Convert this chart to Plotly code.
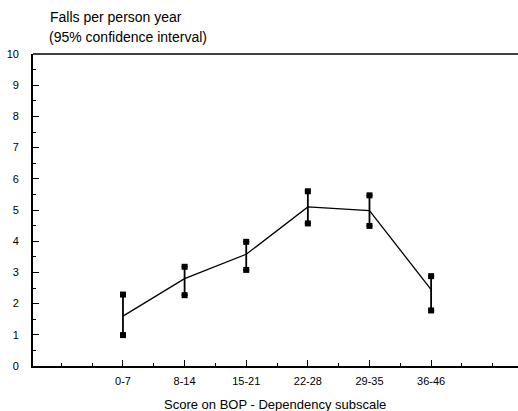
import plotly.graph_objects as go

# Falls per person year by BOP dependency subscale score band, with 95% CI
score_bands = ["0-7", "8-14", "15-21", "22-28", "29-35", "36-46"]
falls_rate = [1.6, 2.8, 3.58, 5.1, 4.98, 2.45]
ci_lower = [0.99, 2.27, 3.08, 4.57, 4.49, 1.78]
ci_upper = [2.29, 3.18, 3.98, 5.6, 5.47, 2.88]
y_ticks = list(range(0, 11))

xpos = list(range(len(score_bands)))
err_plus = [u - m for u, m in zip(ci_upper, falls_rate)]
err_minus = [m - l for m, l in zip(falls_rate, ci_lower)]

FONT = "Liberation Sans, Arial, Helvetica, sans-serif"

fig = go.Figure()

# mean line with CI whiskers
fig.add_trace(go.Scatter(
    x=xpos, y=falls_rate, mode="lines",
    line=dict(color="black", width=1.3),
    error_y=dict(type="data", symmetric=False, array=err_plus, arrayminus=err_minus,
                 color="black", thickness=1.8, width=3),
    hoverinfo="skip", showlegend=False,
))

# small block caps at the CI limits
fig.add_trace(go.Scatter(
    x=xpos + xpos, y=ci_lower + ci_upper, mode="markers",
    marker=dict(symbol="square", size=6, color="black"),
    hoverinfo="skip", showlegend=False,
))

fig.update_layout(
    template="none",
    width=518, height=411,
    margin=dict(l=33, r=0, t=54, b=45),
    paper_bgcolor="white", plot_bgcolor="white",
    font=dict(family=FONT, color="black", size=11),
    showlegend=False,
    xaxis=dict(
        range=[-1.46, 6.41], tickmode="array", tickvals=xpos, ticktext=score_bands,
        showgrid=False, zeroline=False, showline=True, mirror=False,
        linecolor="black", linewidth=1.6,
        ticks="inside", ticklen=6, tickwidth=1.2, tickcolor="black",
        ticklabelstandoff=4,
        minor=dict(tickmode="linear", tick0=-0.5, dtick=0.5, ticks="inside",
                   ticklen=3, tickwidth=1, tickcolor="black", showgrid=False),
        tickfont=dict(family=FONT, size=11, color="black"),
    ),
    yaxis=dict(
        range=[0, 10], tickmode="array", tickvals=y_ticks,
        showgrid=False, zeroline=False, showline=True, mirror=False,
        linecolor="black", linewidth=1.8,
        ticks="inside", ticklen=6, tickwidth=1.2, tickcolor="black",
        ticklabelstandoff=10,
        minor=dict(tickmode="linear", tick0=0, dtick=0.5, ticks="inside",
                   ticklen=3, tickwidth=1, tickcolor="black", showgrid=False),
        tickfont=dict(family=FONT, size=11, color="black"),
    ),
    shapes=[
        # top frame line of the plotting area
        dict(type="line", xref="paper", yref="paper", x0=0, x1=1, y0=1, y1=1,
             line=dict(color="black", width=1.4)),
    ],
    annotations=[
        dict(text="Falls per person year", xref="paper", yref="paper",
             x=(48 - 33) / 485, y=(366 - 17) / 312, xanchor="left", yanchor="middle",
             showarrow=False, font=dict(family=FONT, size=14, color="black")),
        dict(text="(95% confidence interval)", xref="paper", yref="paper",
             x=(47 - 33) / 485, y=(366 - 37) / 312, xanchor="left", yanchor="middle",
             showarrow=False, font=dict(family=FONT, size=14, color="black")),
        dict(text="Score on BOP - Dependency subscale", xref="paper", yref="paper",
             x=(275 - 33) / 485, y=(366 - 404) / 312, xanchor="center", yanchor="middle",
             showarrow=False, font=dict(family=FONT, size=13, color="black")),
    ],
)

fig.write_html("out.html")
